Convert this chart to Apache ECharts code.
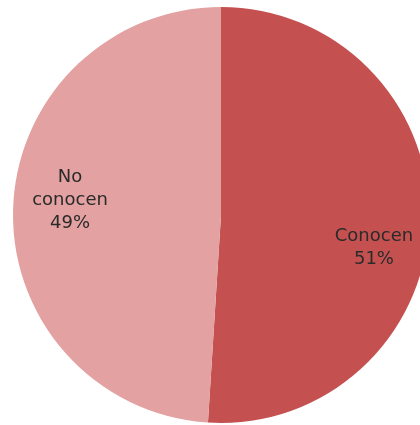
<!DOCTYPE html>
<html>
<head>
<meta charset="utf-8">
<script src="https://cdn.jsdelivr.net/npm/echarts@6/dist/echarts.min.js"></script>
<style>
html,body{margin:0;padding:0;background:#fff;}
#chart{width:420px;height:425px;}
</style>
</head>
<body>
<div id="chart"></div>
<script>
var categories = ['Conocen', 'No\nconocen'];
var values = [51, 49];
var colors = ['#c45150', '#e3a1a1'];
var labelShift = [[46, 29], [-44, -11]];

var chart = echarts.init(document.getElementById('chart'), null, {renderer: 'canvas'});
var data = categories.map(function (c, i) {
  return { name: c, value: values[i], itemStyle: { color: colors[i] } };
});
chart.setOption({
  animation: false,
  series: [{
    type: 'pie',
    center: [221, 215],
    radius: 208,
    startAngle: 90,
    clockwise: true,
    data: data,
    itemStyle: { borderWidth: 0 },
    label: {
      show: true,
      position: 'inside',
      formatter: '{b}\n{d}%',
      fontFamily: 'DejaVu Sans',
      fontSize: 18,
      lineHeight: 23,
      color: '#2a2a2a',
      align: 'center'
    },
    labelLine: { show: false },
    labelLayout: function (p) {
      var s = labelShift[p.dataIndex];
      return { dx: s[0], dy: s[1] };
    }
  }]
});
</script>
</body>
</html>
